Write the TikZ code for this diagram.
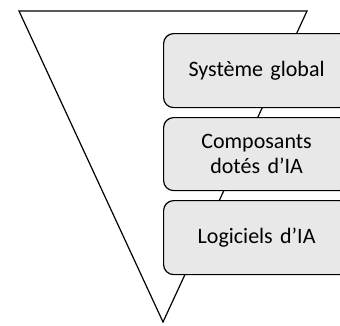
\documentclass[tikz,border=0pt]{standalone}
\usepackage{fontspec}
\setmainfont{Carlito}
\begin{document}
\begin{tikzpicture}[x=1pt,y=-1pt,
  layerbox/.style={draw=black, line width=1.2pt, fill=gray!18, rounded corners=10pt,
    minimum width=186pt, minimum height=74pt, inner sep=0pt, anchor=north west,
    font=\fontsize{22}{25}\selectfont, align=center, text width=186pt}]
\useasboundingbox (0,0) rectangle (340,325);
\clip (0,0) rectangle (340,325);
\coordinate (tl) at (19,11);
\coordinate (tr) at (307,11);
\coordinate (bt) at (163,322);
\draw[line width=1.2pt, line join=miter] (tl) -- (tr) -- (bt) -- cycle;
\node[layerbox] (sys) at (163,33) {Système global};
\node[layerbox, minimum height=73pt] (comp) at (163,117) {Composants\\dotés d’IA};
\node[layerbox] (log) at (163,200) {Logiciels d’IA};
\end{tikzpicture}
\end{document}
